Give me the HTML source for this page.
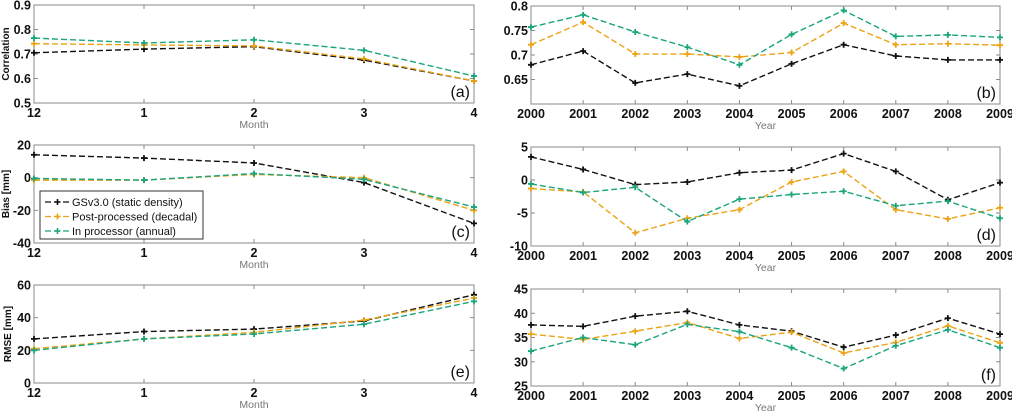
<!DOCTYPE html>
<html><head><meta charset="utf-8"><style>
body{margin:0;background:#fff;}
svg{display:block;font-family:"Liberation Sans",Arial,sans-serif;}
</style></head><body>
<svg id="fig" width="1012" height="414" viewBox="0 0 1012 414"></svg>
<script>
const months=["12","1","2","3","4"];
const years=["2000","2001","2002","2003","2004","2005","2006","2007","2008","2009"];
const corrMonthGS=[.705,.72,.73,.675,.59];
const corrMonthPost=[.742,.737,.733,.68,.59];
const corrMonthIn=[.765,.745,.758,.715,.61];
const biasMonthGS=[14,12,9,-3,-28];
const biasMonthPost=[-1.5,-1.5,2,0,-20];
const biasMonthIn=[-0.5,-1.5,2.5,-1,-18];
const rmseMonthGS=[27,31.5,33,38,54];
const rmseMonthPost=[21,27,31,38.5,52];
const rmseMonthIn=[20,27,30,36,50];
const corrYearGS=[.68,.708,.643,.661,.637,.682,.721,.698,.69,.69];
const corrYearPost=[.721,.767,.702,.702,.696,.705,.765,.721,.723,.72];
const corrYearIn=[.757,.782,.747,.716,.68,.742,.791,.738,.741,.736];
const biasYearGS=[3.5,1.6,-0.7,-0.3,1.1,1.5,4,1.3,-3,-0.4];
const biasYearPost=[-1.3,-1.8,-8,-5.8,-4.5,-0.3,1.3,-4.5,-5.9,-4.2];
const biasYearIn=[-0.6,-1.9,-1.1,-6.3,-2.9,-2.2,-1.7,-3.9,-3.2,-5.8];
const rmseYearGS=[37.6,37.3,39.4,40.4,37.6,36.3,33,35.5,39,35.7];
const rmseYearPost=[35.7,34.6,36.3,38.1,34.8,36.1,31.8,34,37.4,33.9];
const rmseYearIn=[32.2,35,33.5,37.7,36.2,32.9,28.6,33.3,36.6,32.9];
const corrMonthTicks=["0.5","0.6","0.7","0.8","0.9"];
const biasMonthTicks=["-40","-20","0","20"];
const rmseMonthTicks=["0","20","40","60"];
const corrYearTicks=["0.65","0.7","0.75","0.8"];
const biasYearTicks=["-10","-5","0","5"];
const rmseYearTicks=["25","30","35","40","45"];

const C={gs:"#111",post:"#eba314",inp:"#1aa57c"};
const svg=document.getElementById('fig');
const NS="http://www.w3.org/2000/svg";
function mk(tag,at,parent){const e=document.createElementNS(NS,tag);for(const k in at)e.setAttribute(k,at[k]);(parent||svg).appendChild(e);return e;}

function panel(p){
  const g=mk('g',{});
  
  
  const sx=i=>p.x0+(p.x1-p.x0)*i/(p.cats.length-1);
  const sy=v=>p.y1-(v-p.vmin)/(p.vmax-p.vmin)*(p.y1-p.y0);
  const box=mk('rect',{x:p.x0,y:p.y0,width:p.x1-p.x0,height:p.y1-p.y0,fill:'none',stroke:'#8a8a8a','stroke-width':1},g);
  
  
  p.cats.forEach((c,i)=>{
    const x=sx(i);
    mk('line',{x1:x,x2:x,y1:p.y1,y2:p.y1-4,stroke:'#8a8a8a'},g);
    mk('line',{x1:x,x2:x,y1:p.y0,y2:p.y0+4,stroke:'#8a8a8a'},g);
    const t=mk('text',{x:x,y:p.y1+14,'font-size':12.5,'font-weight':'bold','text-anchor':'middle',fill:'#111'},g);
    t.textContent=c;
    
    
  });
  p.ticks.forEach(tl=>{
    const y=sy(parseFloat(tl));
    mk('line',{x1:p.x0,x2:p.x0+4,y1:y,y2:y,stroke:'#8a8a8a'},g);
    mk('line',{x1:p.x1,x2:p.x1-4,y1:y,y2:y,stroke:'#8a8a8a'},g);
    const t=mk('text',{x:p.x0-3,y:y+4.5,'font-size':12.5,'font-weight':'bold','text-anchor':'end',fill:'#111'},g);
    t.textContent=tl;
    
    
  });
  const xl=mk('text',{x:(p.x0+p.x1)/2,y:p.y1+25,'font-size':10.5,'text-anchor':'middle',fill:'#777'},g);
  xl.textContent=p.xlabel;
  
  
  if(p.ylabel){
    const yl=mk('text',{x:0,y:0,'font-size':10,'font-weight':'bold','text-anchor':'middle',fill:'#111',transform:`translate(${p.yl},${(p.y0+p.y1)/2}) rotate(-90)`},g);
    yl.textContent=p.ylabel;
    
    
  }
  const pl=mk('text',{x:p.x1-4,y:p.y1-6,'font-size':16,'text-anchor':'end',fill:'#111'},g);
  pl.textContent='('+p.id+')';
  
  
  [['gs',p.gs],['post',p.post],['inp',p.inp]].forEach(([k,arr])=>{
    const pts=arr.map((v,i)=>sx(i)+','+sy(v)).join(' ');
    const l=mk('polyline',{points:pts,fill:'none',stroke:C[k],'stroke-width':1.4,'stroke-dasharray':'6,3'},g);
    
    
    arr.forEach((v,i)=>{
      const m=mk('path',{d:`M${sx(i)-3},${sy(v)}h6M${sx(i)},${sy(v)-3}v6`,stroke:C[k],'stroke-width':1.8},g);
      
      
    });
  });
}
panel({id:'a',x0:34,x1:474,y0:5,y1:103,vmin:.5,vmax:.9,cats:months,ticks:corrMonthTicks,gs:corrMonthGS,post:corrMonthPost,inp:corrMonthIn,xlabel:'Month',ylabel:'Correlation',yl:9});
panel({id:'c',x0:34,x1:474,y0:145,y1:243,vmin:-40,vmax:20,cats:months,ticks:biasMonthTicks,gs:biasMonthGS,post:biasMonthPost,inp:biasMonthIn,xlabel:'Month',ylabel:'Bias [mm]',yl:9});
panel({id:'e',x0:34,x1:474,y0:285,y1:383,vmin:0,vmax:60,cats:months,ticks:rmseMonthTicks,gs:rmseMonthGS,post:rmseMonthPost,inp:rmseMonthIn,xlabel:'Month',ylabel:'RMSE [mm]',yl:11});
panel({id:'b',x0:531,x1:1000,y0:6,y1:104,vmin:.6,vmax:.8,cats:years,ticks:corrYearTicks,gs:corrYearGS,post:corrYearPost,inp:corrYearIn,xlabel:'Year'});
panel({id:'d',x0:531,x1:1000,y0:147,y1:246,vmin:-10,vmax:5,cats:years,ticks:biasYearTicks,gs:biasYearGS,post:biasYearPost,inp:biasYearIn,xlabel:'Year'});
panel({id:'f',x0:531,x1:1000,y0:289,y1:386,vmin:25,vmax:45,cats:years,ticks:rmseYearTicks,gs:rmseYearGS,post:rmseYearPost,inp:rmseYearIn,xlabel:'Year'});

// legend
const lg=mk('g',{});


mk('rect',{x:40,y:191,width:163,height:48,fill:'#fff',stroke:'#333','stroke-width':1},lg);
[['gs','GSv3.0 (static density)'],['post','Post-processed (decadal)'],['inp','In processor (annual)']].forEach(([k,txt],i)=>{
  const y=202+i*14.5;
  const e=mk('g',{},lg);
  
  
  mk('line',{x1:45,x2:70,y1:y,y2:y,stroke:C[k],'stroke-width':1.3,'stroke-dasharray':'6,3'},e);
  mk('path',{d:`M${54.5},${y}h6M${57.5},${y-3}v6`,stroke:C[k],'stroke-width':1.6},e);
  const t=mk('text',{x:72,y:y+4,'font-size':11,fill:'#111'},e);
  t.textContent=txt;
});
</script>
</body></html>
